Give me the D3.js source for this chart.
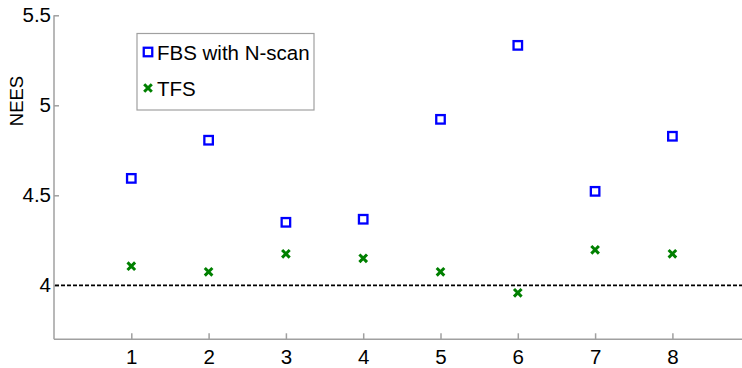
<!DOCTYPE html>
<html><head><meta charset="utf-8">
<script src="https://cdn.jsdelivr.net/npm/d3@7"></script>
<style>body{margin:0;background:#fff}svg{display:block}text{font-family:"Liberation Sans",Arial,sans-serif}</style>
</head><body><div id="c"></div>
<script>
const categories = [1,2,3,4,5,6,7,8];
const fbsValues = [4.594, 4.806, 4.35, 4.367, 4.922, 5.333, 4.522, 4.828];
const tfsValues = [4.106, 4.075, 4.175, 4.15, 4.075, 3.958, 4.197, 4.175];
const yTicks = [4, 4.5, 5, 5.5];
const yTickLabels = ["4", "4.5", "5", "5.5"];
const seriesNames = ["FBS with N-scan", "TFS"];
const refLevel = 4;

const W = 742, H = 368;
const FS = 20.5;
const svg = d3.select("#c").append("svg").attr("width", W).attr("height", H);
const x = d3.scaleLinear().domain([0, 9]).range([54, 749.7]);
const y = d3.scaleLinear().domain([3.7, 5.5]).range([339.3, 15.3]);
const axisColor = "#a0a0a0";

// x axis
const xa = svg.append("g").attr("transform", `translate(0,${y(3.7)})`)
  .call(d3.axisBottom(x).tickValues(categories).tickSize(-6).tickPadding(10).tickFormat(d3.format("d")));
xa.select(".domain").attr("stroke", axisColor).attr("stroke-width", 1.5).attr("d", `M${x(0)},0H${W}`);
xa.selectAll(".tick line").attr("stroke", axisColor).attr("stroke-width", 1.5);
xa.selectAll("text").attr("font-size", FS).attr("fill", "#000").attr("font-family", "Liberation Sans, Arial, sans-serif");

// y axis
const ya = svg.append("g").attr("transform", `translate(${x(0)},0)`)
  .call(d3.axisLeft(y).tickValues(yTicks).tickSize(-5).tickPadding(3).tickFormat((d,i)=>yTickLabels[i]));
ya.select(".domain").attr("stroke", axisColor).attr("stroke-width", 1.5).attr("d", `M0,${y(5.5)}V${y(3.7)}`);
ya.selectAll(".tick line").attr("stroke", axisColor).attr("stroke-width", 1.5);
ya.selectAll("text").attr("font-size", FS).attr("fill", "#000").attr("font-family", "Liberation Sans, Arial, sans-serif");

svg.append("text").attr("transform", `translate(23,101) rotate(-90)`).attr("text-anchor", "middle")
  .attr("font-size", 18.5).text("NEES");

// reference line
svg.append("line").attr("x1", x(0)+1).attr("x2", W).attr("y1", y(refLevel)).attr("y2", y(refLevel))
  .attr("stroke", "#000").attr("stroke-width", 1.7).attr("stroke-dasharray", "4,2");

const sq = 10.5, cr = 3.8;
function square(g, cx, cy) {
  g.append("rect").attr("x", cx - sq/2 + 1).attr("y", cy - sq/2 + 1).attr("width", sq - 2).attr("height", sq - 2)
    .attr("fill", "none").attr("stroke", "#0000ff").attr("stroke-width", 2.3);
}
function cross(g, cx, cy) {
  g.append("path").attr("d", `M${cx-cr},${cy-cr}L${cx+cr},${cy+cr}M${cx-cr},${cy+cr}L${cx+cr},${cy-cr}`)
    .attr("stroke", "#008000").attr("stroke-width", 3);
}
const gm = svg.append("g");
categories.forEach((c, i) => {
  square(gm, x(c), y(fbsValues[i]));
  cross(gm, x(c), y(tfsValues[i]));
});

// legend
const lg = svg.append("g");
lg.append("rect").attr("x", 137).attr("y", 33.5).attr("width", 177).attr("height", 76.5)
  .attr("fill", "#fff").attr("stroke", axisColor).attr("stroke-width", 1.2);
square(lg, 148, 52);
cross(lg, 148, 88);
lg.append("text").attr("x", 157).attr("y", 60).attr("font-size", FS).text(seriesNames[0]);
lg.append("text").attr("x", 157).attr("y", 96).attr("font-size", FS).text(seriesNames[1]);
</script></body></html>
